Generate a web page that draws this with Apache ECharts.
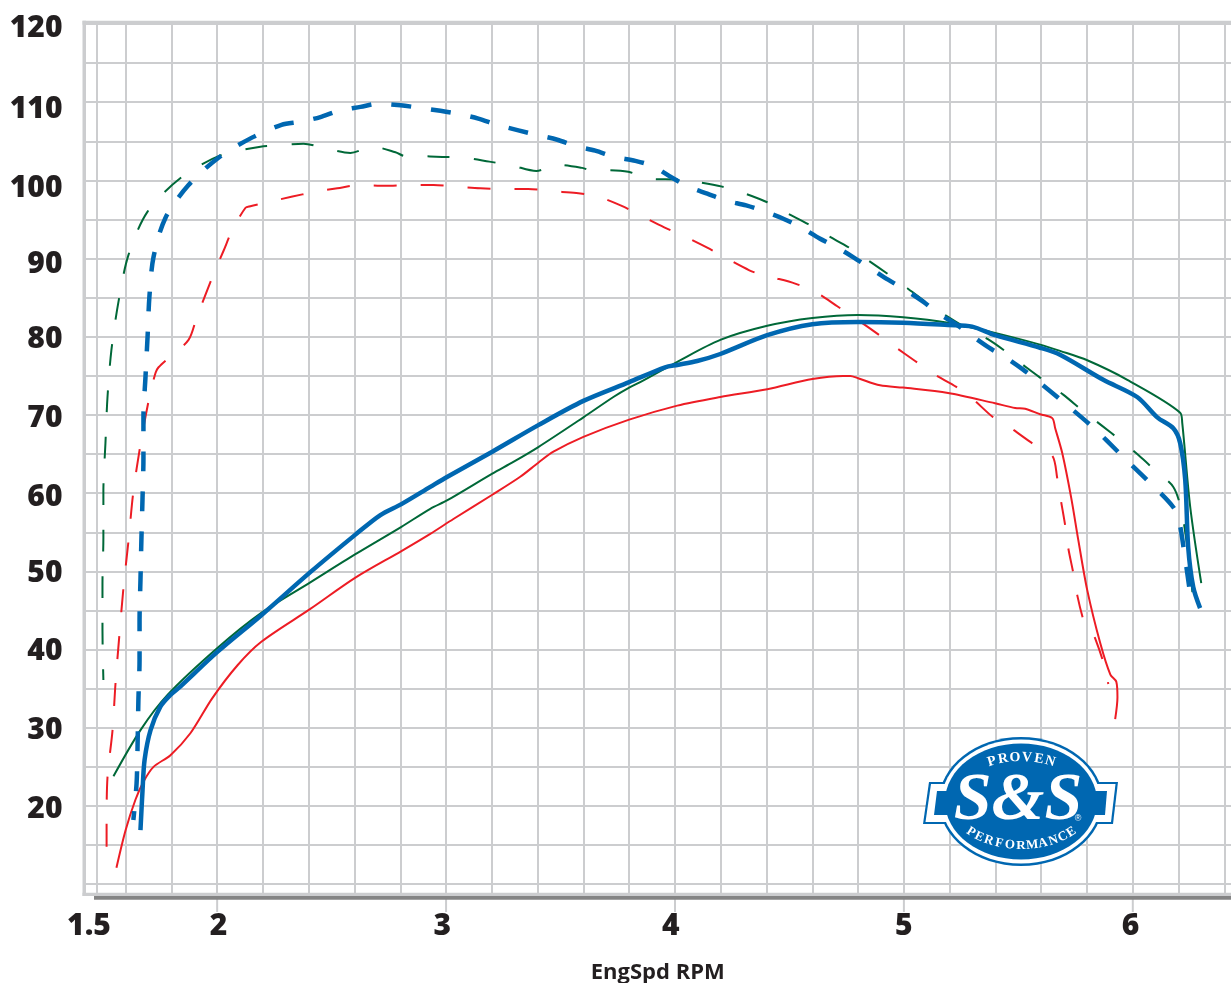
<!DOCTYPE html>
<html><head><meta charset="utf-8">
<style>html,body{margin:0;padding:0;background:#fff}#c{width:1231px;height:983px}</style>
<script src="https://cdn.jsdelivr.net/npm/echarts@6/dist/echarts.min.js"></script>
</head><body><div id="c"></div>
<script>
const blueSolidX=[1.665,1.674,1.683,1.709,1.752,1.796,1.840,2.001,2.193,2.407,2.604,2.713,2.805,2.931,3.006,3.202,3.403,3.600,3.800,3.957,4.010,4.097,4.198,4.403,4.600,4.800,4.997,5.193,5.298,5.398,5.595,5.682,5.871,6.019,6.107,6.177,6.207,6.229,6.242,6.264,6.294];
const blueSolidY=[16.9,22.0,25.9,29.7,32.7,34.2,35.3,39.7,44.4,49.9,54.7,57.2,58.6,60.8,62.1,65.3,68.7,71.8,74.2,76.1,76.4,76.9,77.8,80.2,81.6,81.9,81.8,81.5,81.3,80.2,78.6,77.7,74.5,72.3,69.7,68.3,66.4,61.7,53.1,48.0,45.3];
const greenSolidX=[1.547,1.665,1.783,2.001,2.193,2.407,2.604,2.805,2.931,3.006,3.202,3.294,3.403,3.600,3.731,3.800,3.848,4.010,4.198,4.403,4.600,4.800,4.997,5.193,5.398,5.595,5.682,5.801,5.976,6.207,6.216,6.251,6.299];
const greenSolidY=[23.8,29.7,34.2,40.2,44.7,48.6,52.2,55.7,58.0,59.1,62.5,64.0,65.9,69.7,72.3,73.5,74.2,76.8,79.6,81.4,82.4,82.8,82.5,81.8,80.5,79.0,78.2,77.0,74.5,70.3,69.0,58.2,48.5];
const redSolidX=[1.560,1.600,1.643,1.678,1.722,1.796,1.883,1.979,2.089,2.193,2.407,2.604,2.805,2.931,3.032,3.202,3.324,3.403,3.469,3.600,3.800,4.010,4.198,4.403,4.600,4.735,4.766,4.800,4.896,4.997,5.193,5.398,5.486,5.530,5.595,5.648,5.661,5.692,5.731,5.762,5.801,5.858,5.902,5.928,5.933,5.923];
const redSolidY=[12.1,16.9,20.8,23.1,25.0,26.5,29.3,33.8,38.0,41.0,45.2,49.2,52.6,54.8,56.7,59.8,62.1,63.9,65.3,67.2,69.4,71.2,72.3,73.3,74.6,75.0,75.0,74.7,73.8,73.5,72.8,71.5,70.9,70.8,70.1,69.6,68.3,65.1,59.4,54.0,47.6,40.8,36.8,35.9,33.9,31.1];
const blueDashX=[1.634,1.648,1.652,1.656,1.661,1.661,1.665,1.669,1.674,1.678,1.678,1.687,1.696,1.704,1.722,1.774,1.875,2.006,2.154,2.281,2.364,2.451,2.530,2.626,2.704,2.801,2.879,2.975,3.054,3.141,3.224,3.316,3.399,3.486,3.565,3.652,3.735,3.827,3.905,3.984,4.058,4.141,4.224,4.311,4.394,4.473,4.556,4.630,4.709,4.783,4.857,4.931,5.006,5.084,5.150,5.233,5.298,5.372,5.447,5.521,5.591,5.670,5.823,5.949,6.076,6.177,6.203,6.225,6.247];
const blueDashY=[18.2,22.9,27.2,33.6,38.7,43.8,48.9,54.0,59.4,64.5,69.7,74.9,80.0,85.1,90.2,95.2,99.4,102.9,105.5,107.1,107.5,108.1,108.9,109.4,109.8,109.6,109.3,108.9,108.5,107.9,107.1,106.4,105.8,105.2,104.4,103.8,103.0,102.5,101.8,100.4,99.2,98.3,97.4,96.8,96.0,95.1,93.9,92.6,91.4,90.1,88.7,87.3,86.0,84.5,83.0,81.5,80.1,78.6,77.3,75.8,74.2,72.3,68.5,64.9,61.3,58.2,56.3,52.4,47.9];
const greenDashX=[1.503,1.499,1.499,1.503,1.503,1.512,1.521,1.538,1.569,1.613,1.696,1.840,2.014,2.189,2.268,2.377,2.473,2.582,2.678,2.779,2.822,2.875,2.984,3.084,3.189,3.289,3.394,3.486,3.595,3.644,3.687,3.796,3.892,4.010,4.097,4.206,4.298,4.403,4.490,4.582,4.669,4.761,4.848,4.936,5.015,5.102,5.184,5.280,5.367,5.455,5.534,5.622,5.696,5.783,5.862,5.945,6.023,6.102,6.177,6.212,6.229,6.251,6.268];
const greenDashY=[36.1,42.5,48.5,54.3,60.2,66.4,72.3,78.3,84.5,90.5,96.0,100.3,103.2,104.3,104.5,104.7,104.1,103.5,104.3,103.6,103.1,103.1,103.0,102.9,102.4,101.9,101.2,102.0,101.6,101.2,101.3,101.1,100.2,100.1,99.8,99.2,98.4,97.2,95.8,94.4,92.9,91.4,89.7,87.9,86.2,84.3,82.7,81.0,79.7,77.9,76.1,74.2,72.6,70.5,68.7,66.8,64.9,62.8,60.8,57.9,55.0,50.2,44.7];
const redDashX=[1.517,1.517,1.521,1.543,1.556,1.573,1.591,1.613,1.634,1.665,1.704,1.731,1.744,1.792,1.875,1.910,1.984,2.028,2.067,2.124,2.145,2.189,2.324,2.421,2.525,2.626,2.735,2.835,2.945,3.045,3.150,3.250,3.359,3.464,3.569,3.665,3.770,3.857,3.953,4.045,4.141,4.233,4.325,4.373,4.425,4.525,4.621,4.709,4.791,4.879,4.962,5.049,5.133,5.229,5.303,5.390,5.473,5.560,5.648,5.670,5.687,5.705,5.718,5.740,5.757,5.783,5.801,5.823,5.836,5.871,5.893];
const redDashY=[14.8,17.6,23.7,29.7,35.7,41.9,48.0,54.0,60.2,66.2,72.3,75.4,76.1,77.4,79.6,82.4,88.0,91.0,93.7,96.5,96.7,97.0,97.9,98.5,99.0,99.4,99.3,99.4,99.4,99.2,99.0,98.9,98.9,98.6,98.4,97.9,96.7,95.4,94.0,92.8,91.4,89.9,88.5,88.0,87.6,86.8,85.6,83.9,82.3,80.5,78.7,76.9,75.2,73.6,72.0,69.7,68.2,66.4,64.8,61.9,58.9,55.8,53.0,49.8,47.0,43.9,42.6,42.1,41.4,38.4,35.6];

const xGridValues=[1.474,1.6,1.8,2,2.2,2.4,2.6,2.8,3,3.2,3.4,3.6,3.8,4,4.2,4.4,4.6,4.8,5,5.2,5.4,5.6,5.8,6,6.2,6.4];
const xLabelValues=[1.44,2.006,2.983,3.982,5,5.99];
const xLabelTexts=['1.5','2','3','4','5','6'];
const xMajorTicks=[2,3,4,5,6];
const yGridValues=[10,15,20,25,30,35,40,45,50,55,60,65,70,75,80,85,90,95,100,105,110,115,120];
const yLabelValues=[19.5,29.7,39.7,49.7,59.4,69.5,79.6,89.3,99.0,109.1,119.4];
const yLabelTexts=['20','30','40','50','60','70','80','90','100','110','120'];
const xName='EngSpd RPM';

const BLUE='#0067b1',GREEN='#006838',RED='#ed1c24',GRID='#cccdcf',INK='#231f20';
const XMIN=1.4205,XMAX=6.429;
const zip=(a,b)=>a.map((v,i)=>[v,b[i]]);
const mk=(x,y,color,width,dash,offset,z)=>({type:'line',data:zip(x,y),smooth:0.3,showSymbol:false,symbol:'none',z,
  clip:false,silent:true,lineStyle:{color,width,type:dash||'solid',dashOffset:offset,cap:'butt',join:'round'}});
const pick=(vals,texts)=>v=>{const i=vals.findIndex(k=>Math.abs(k-v)<1e-6);return i>=0?texts[i]:'';};

const LX=1021,LY=801.5;
function arc(text,rx,ry,fromT,toT,bottom,size){
  const n=text.length;
  return text.split('').map((ch,i)=>{
    const t=fromT+(toT-fromT)*i/(n-1);
    const x=LX+rx*Math.sin(t), y=bottom?LY+ry*Math.cos(t):LY-ry*Math.cos(t);
    const slope=bottom?(-ry*Math.sin(t))/(rx*Math.cos(t)):(ry*Math.sin(t))/(rx*Math.cos(t));
    return {type:'text',x,y,rotation:-Math.atan(slope),z:53,
      style:{text:ch,fill:'#fff',font:'bold '+size+'px "Liberation Serif"',align:'center',verticalAlign:'middle'}};
  });
}
const ell=(rx,ry,fill,z)=>({type:'ellipse',shape:{cx:LX,cy:LY,rx,ry},style:{fill},z});
const poly=(points,fill,z)=>({type:'polygon',shape:{points},style:{fill},z});
const bar=(x,y,width,height,fill,z)=>({type:'rect',shape:{x,y,width,height},style:{fill},z});
const logo=[
 ell(82,64.5,BLUE,50),poly([[929,782],[1118,782],[1113,824],[923,824]],BLUE,50),
 ell(79.5,62,'#fff',51),poly([[931,784],[1115.5,784],[1111,822],[925.5,822]],'#fff',51),
 ell(76,58,BLUE,52),poly([[937,791],[1107,791],[1105,815],[934,815]],BLUE,52),
 {type:'text',x:1018,y:801,z:53,style:{text:'S&S',fill:'#fff',font:'italic bold 68px "Liberation Serif"',align:'center',verticalAlign:'middle'}},
 {type:'text',x:1078,y:819,z:53,style:{text:'®',fill:'#fff',font:'9px "Liberation Sans"',align:'center',verticalAlign:'middle'}},
 ...arc('PROVEN',70,44,-0.43,0.43,false,14),
 ...arc('PERFORMANCE',70,44,-0.8,0.8,true,13)
];

const chart=echarts.init(document.getElementById('c'),null,{renderer:'canvas'});
const tickFont={color:INK,fontFamily:'Open Sans',fontWeight:800,fontSize:30};
chart.setOption({
 animation:false,backgroundColor:'#fff',
 grid:{left:84.5,top:22.5,right:0,bottom:88.5,show:false,outerBoundsMode:'none'},
 xAxis:{type:'value',min:XMIN,max:XMAX,position:'bottom',
   name:xName,nameLocation:'middle',nameGap:67,nameTextStyle:{fontFamily:'Open Sans',fontWeight:'bold',fontSize:22,color:INK},
   axisLine:{show:false},
   axisTick:{show:false,customValues:xGridValues},
   splitLine:{show:true,lineStyle:{color:GRID,width:2}},
   axisLabel:{show:true,customValues:xLabelValues,margin:17,hideOverlap:false,...tickFont,formatter:pick(xLabelValues,xLabelTexts)}},
 yAxis:{type:'value',min:8.68,max:120.19,
   axisLine:{show:false},
   axisTick:{show:false,customValues:yGridValues},
   splitLine:{show:true,lineStyle:{color:GRID,width:2}},
   axisLabel:{show:true,customValues:yLabelValues,margin:22,hideOverlap:false,...tickFont,formatter:pick(yLabelValues,yLabelTexts)}},
 series:[
  mk(greenDashX,greenDashY,GREEN,2,[22,24.5],11,3),
  mk(redDashX,redDashY,RED,2,[23,24],0,4),
  mk(greenSolidX,greenSolidY,GREEN,2,null,0,5),
  mk(redSolidX,redSolidY,RED,2,null,0,6),
  mk(blueDashX,blueDashY,BLUE,4.5,[20,20],11,7),
  mk(blueSolidX,blueSolidY,BLUE,4.5,null,0,8)
 ]
});
const majorTicks=xMajorTicks.map(v=>bar(chart.convertToPixel({xAxisIndex:0},v)-1,896,2,16,GRID,39));
chart.setOption({graphic:[...majorTicks,bar(82.5,20.7,1148.5,4,GRID,40),bar(82.5,20.7,3.5,875.3,GRID,40),bar(82.5,892.7,1148.5,3.3,GRID,40),bar(94,896,1137,3.7,'#848484',41),...logo]});
</script></body></html>
